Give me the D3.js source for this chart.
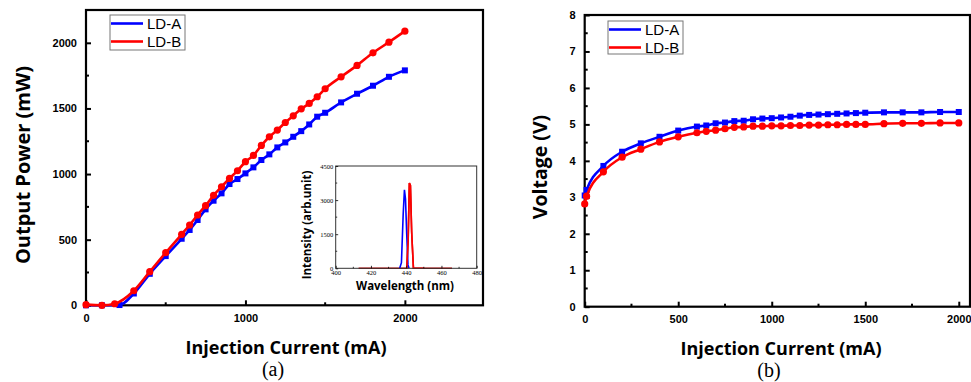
<!DOCTYPE html>
<html>
<head>
<meta charset="utf-8">
<script src="https://cdn.jsdelivr.net/npm/d3@7"></script>
<style>
  body { margin: 0; background: #fff; }
  svg { display: block; }
</style>
</head>
<body>
<svg id="drawing_region"></svg>
<script>
// panel (a): output power vs current
var currentA_LDA = [0, 100, 210, 300, 400, 500, 600, 650, 700, 750, 800, 850, 900, 950, 1000, 1050, 1100, 1150, 1200, 1250, 1300, 1350, 1400, 1450, 1500, 1600, 1700, 1800, 1900, 2000];
var powerA_LDA = [0, 0, 2, 90, 240, 375, 507, 574, 650, 731, 797, 853, 924, 962, 1005, 1051, 1107, 1150, 1203, 1241, 1284, 1327, 1378, 1437, 1467, 1546, 1612, 1673, 1741, 1790];
var currentA_LDB = [0, 100, 180, 300, 400, 500, 600, 650, 700, 750, 800, 850, 900, 950, 1000, 1050, 1100, 1150, 1200, 1250, 1300, 1350, 1400, 1450, 1500, 1600, 1700, 1800, 1900, 2000];
var powerA_LDB = [5, 0, 12, 111, 256, 401, 541, 612, 688, 759, 838, 903, 967, 1025, 1094, 1142, 1218, 1284, 1335, 1393, 1444, 1497, 1538, 1589, 1650, 1741, 1828, 1924, 2005, 2089];

// panel (b): voltage vs current
var currentB = [0, 10, 100, 200, 300, 400, 500, 600, 650, 700, 750, 800, 850, 900, 950, 1000, 1050, 1100, 1150, 1200, 1250, 1300, 1350, 1400, 1450, 1500, 1600, 1700, 1800, 1900, 2000];
var voltageB_LDA = [3.05, 3.2, 3.86, 4.25, 4.48, 4.66, 4.83, 4.94, 4.97, 5.03, 5.05, 5.09, 5.10, 5.14, 5.16, 5.17, 5.19, 5.21, 5.24, 5.26, 5.27, 5.28, 5.29, 5.30, 5.31, 5.32, 5.33, 5.33, 5.33, 5.34, 5.34];
var voltageB_LDB = [2.82, 3.03, 3.70, 4.10, 4.32, 4.52, 4.66, 4.77, 4.81, 4.84, 4.88, 4.92, 4.93, 4.95, 4.95, 4.96, 4.96, 4.97, 4.97, 4.98, 4.98, 4.99, 4.99, 5.00, 5.00, 5.00, 5.02, 5.03, 5.03, 5.04, 5.04];

// inset: spectra
var wlLDA = [436.3, 437.3, 438.3, 439, 439.6, 440.3, 441, 441.6];
var intLDA = [0, 250, 2400, 3450, 3050, 1500, 150, 0];
var wlLDB = [413, 430, 440.3, 441.1, 441.8, 442.4, 443.1, 444.1, 450, 466];
var intLDB = [0, 0, 0, 1200, 3750, 3650, 1600, 0, 0, 0];

var seriesNames = ['LD-A', 'LD-B'];
var seriesColors = ['#0000ff', '#ff0000'];

var W = 971, H = 382;
var svg = d3.select('#drawing_region').attr('width', W).attr('height', H);

function zip(xs, ys) { return xs.map((x, i) => ({ x: x, y: ys[i] })); }

function drawAxes(g, xscale, yscale, xt, yt, opt) {
    let [x0, x1] = xscale.range();
    let [y0, y1] = yscale.range();
    // frame
    g.append('rect')
        .attr('x', x0).attr('y', y1)
        .attr('width', x1 - x0).attr('height', y0 - y1)
        .attr('fill', 'none').attr('stroke', opt.frame || '#000')
        .attr('stroke-width', opt.sw || 2.2);

    let xaxis = d3.axisBottom(xscale).tickValues(xt.major)
        .tickSize(-opt.major).tickSizeOuter(0).tickPadding(opt.pad + opt.major)
        .tickFormat(d3.format('d'));
    let xg = g.append('g').attr('transform', `translate(0,${y0})`).call(xaxis);
    let yaxis = d3.axisLeft(yscale).tickValues(yt.major)
        .tickSize(-opt.major).tickSizeOuter(0).tickPadding(opt.pad + opt.major)
        .tickFormat(d3.format('d'));
    let yg = g.append('g').attr('transform', `translate(${x0},0)`).call(yaxis);

    [xg, yg].forEach(a => {
        a.select('.domain').remove();
        a.selectAll('line').attr('stroke', '#000').attr('stroke-width', opt.tw);
        a.selectAll('text').attr('font-family', opt.font).attr('font-weight', opt.weight)
            .attr('font-size', opt.fs).attr('fill', '#000');
    });

    // minor ticks
    g.append('g').selectAll('line').data(xt.minor).join('line')
        .attr('x1', d => xscale(d)).attr('x2', d => xscale(d))
        .attr('y1', y0).attr('y2', y0 - opt.minor)
        .attr('stroke', '#000').attr('stroke-width', opt.tw);
    g.append('g').selectAll('line').data(yt.minor).join('line')
        .attr('y1', d => yscale(d)).attr('y2', d => yscale(d))
        .attr('x1', x0).attr('x2', x0 + opt.minor)
        .attr('stroke', '#000').attr('stroke-width', opt.tw);
}

function drawSeries(g, xscale, yscale, data, color, shape) {
    let line = d3.line()
        .x(d => xscale(d.x))
        .y(d => yscale(d.y))
        .curve(d3.curveMonotoneX);
    g.append('path').datum(data)
        .attr('d', line).attr('fill', 'none')
        .attr('stroke', color).attr('stroke-width', 2.6);
    if (shape === 'square') {
        g.append('g').selectAll('rect').data(data).join('rect')
            .attr('x', d => xscale(d.x) - 3).attr('y', d => yscale(d.y) - 3)
            .attr('width', 6).attr('height', 6).attr('fill', color);
    } else {
        g.append('g').selectAll('circle').data(data).join('circle')
            .attr('cx', d => xscale(d.x)).attr('cy', d => yscale(d.y))
            .attr('r', 3.6).attr('fill', color);
    }
}

function drawLegend(g, x, y, w, h) {
    g.append('rect').attr('x', x).attr('y', y).attr('width', w).attr('height', h)
        .attr('fill', '#fff').attr('stroke', '#777').attr('stroke-width', 1);
    seriesNames.forEach((name, i) => {
        let cy = y + 8.5 + i * 18;
        g.append('line').attr('x1', x + 1).attr('x2', x + 33)
            .attr('y1', cy).attr('y2', cy)
            .attr('stroke', seriesColors[i]).attr('stroke-width', 2.6);
        g.append('text').attr('x', x + 37).attr('y', cy + 5.5)
            .attr('font-family', 'Liberation Sans, Arial, sans-serif')
            .attr('font-size', 15).attr('fill', '#000').text(name);
    });
}

const mainOpt = { major: 5, minor: 3, pad: 4, tw: 2, fs: 11, font: 'Liberation Sans, Arial, sans-serif', weight: 'bold' };

// ---------- panel (a)
let ga = svg.append('g');
let xa = d3.scaleLinear().domain([0, 2490]).range([86, 483]);
let ya = d3.scaleLinear().domain([0, 2250]).range([305.3, 10]);
drawAxes(ga, xa, ya,
    { major: [0, 1000, 2000], minor: [500, 1500] },
    { major: [0, 500, 1000, 1500, 2000], minor: [250, 750, 1250, 1750] },
    mainOpt);
drawSeries(ga, xa, ya, zip(currentA_LDA, powerA_LDA), seriesColors[0], 'square');
drawSeries(ga, xa, ya, zip(currentA_LDB, powerA_LDB), seriesColors[1], 'circle');
drawLegend(ga, 110, 15, 75, 35);

// inset
let gi = svg.append('g');
let xi = d3.scaleLinear().domain([400, 480]).range([335.7, 476.7]);
let yi = d3.scaleLinear().domain([0, 4500]).range([268.3, 166]);
gi.append('rect').attr('x', 335.7).attr('y', 166).attr('width', 141).attr('height', 102.3).attr('fill', '#fff');
function drawSpectrum(xs, ys, color) {
    gi.append('path').datum(zip(xs, ys))
        .attr('d', d3.line().x(d => xi(d.x)).y(d => yi(d.y)))
        .attr('fill', 'none').attr('stroke', color).attr('stroke-width', 1.6);
}
drawSpectrum(wlLDB, intLDB, '#c00000');
drawSpectrum(wlLDA, intLDA, seriesColors[0]);
drawSpectrum(wlLDB.slice(2, 9), intLDB.slice(2, 9), seriesColors[1]);
drawAxes(gi, xi, yi,
    { major: [400, 420, 440, 460, 480], minor: [410, 430, 450, 470] },
    { major: [0, 1500, 3000, 4500], minor: [750, 2250, 3750] },
    { major: 2.5, minor: 1.5, pad: 0, tw: 0.8, fs: 6.5, font: 'Liberation Serif, Times New Roman, serif', weight: 'normal', sw: 1, frame: '#333' });
gi.append('text').attr('x', 405).attr('y', 289.5).attr('text-anchor', 'middle')
    .attr('font-family', 'Open Sans, sans-serif').attr('font-weight', 'bold')
    .attr('font-size', 11.5).text('Wavelength (nm)');
gi.append('text').attr('transform', 'translate(311,225) rotate(-90)').attr('text-anchor', 'middle')
    .attr('font-family', 'Open Sans, sans-serif').attr('font-weight', 'bold')
    .attr('font-size', 11.5).text('Intensity (arb.unit)');

// titles (a)
ga.append('text').attr('x', 286).attr('y', 354).attr('text-anchor', 'middle')
    .attr('font-family', 'Open Sans, sans-serif').attr('font-weight', 'bold')
    .attr('font-size', 18).text('Injection Current (mA)');
ga.append('text').attr('transform', 'translate(30,165) rotate(-90)').attr('text-anchor', 'middle')
    .attr('font-family', 'Open Sans, sans-serif').attr('font-weight', 'bold')
    .attr('font-size', 20).text('Output Power (mW)');
ga.append('text').attr('x', 273).attr('y', 376).attr('text-anchor', 'middle')
    .attr('font-family', 'Liberation Serif, Times New Roman, serif')
    .attr('font-size', 20).text('(a)');

// ---------- panel (b)
let gb = svg.append('g');
let xb = d3.scaleLinear().domain([0, 2060]).range([584.7, 970]);
let yb = d3.scaleLinear().domain([0, 8]).range([306.7, 15]);
drawAxes(gb, xb, yb,
    { major: [0, 500, 1000, 1500, 2000], minor: [250, 750, 1250, 1750] },
    { major: [0, 1, 2, 3, 4, 5, 6, 7, 8], minor: [0.5, 1.5, 2.5, 3.5, 4.5, 5.5, 6.5, 7.5] },
    mainOpt);
drawSeries(gb, xb, yb, zip(currentB, voltageB_LDA), seriesColors[0], 'square');
drawSeries(gb, xb, yb, zip(currentB, voltageB_LDB), seriesColors[1], 'circle');
drawLegend(gb, 608, 21, 75, 33);

gb.append('text').attr('x', 781).attr('y', 355).attr('text-anchor', 'middle')
    .attr('font-family', 'Open Sans, sans-serif').attr('font-weight', 'bold')
    .attr('font-size', 18).text('Injection Current (mA)');
gb.append('text').attr('transform', 'translate(547,167) rotate(-90)').attr('text-anchor', 'middle')
    .attr('font-family', 'Open Sans, sans-serif').attr('font-weight', 'bold')
    .attr('font-size', 19.5).text('Voltage (V)');
gb.append('text').attr('x', 769).attr('y', 377).attr('text-anchor', 'middle')
    .attr('font-family', 'Liberation Serif, Times New Roman, serif')
    .attr('font-size', 20).text('(b)');
</script>
</body>
</html>
